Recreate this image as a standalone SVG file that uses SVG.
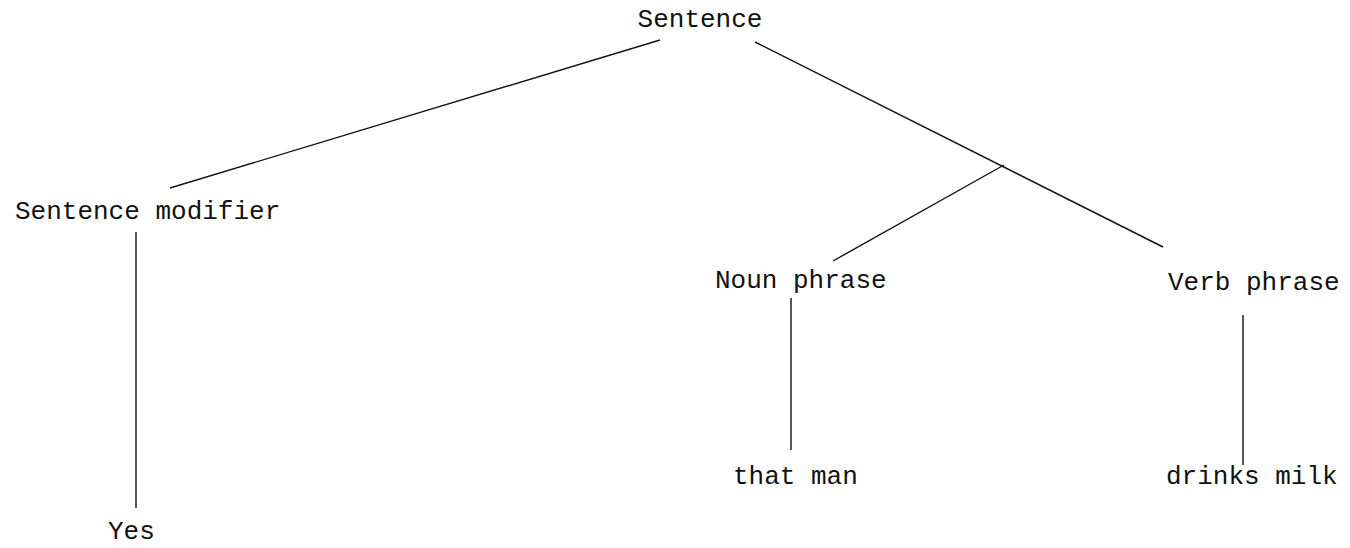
<svg xmlns="http://www.w3.org/2000/svg" width="1350" height="548" viewBox="0 0 1350 548">
<style>
.t{font-family:"Liberation Mono","DejaVu Sans Mono",monospace;font-size:26px;fill:#111;}
.e{stroke:#111;stroke-width:1.4;fill:none;}
</style>
<rect width="1350" height="548" fill="#fff"/>
<g id="connectors">
<line class="e" x1="660" y1="40" x2="170" y2="188"/>
<line class="e" x1="755" y1="42" x2="1163" y2="247"/>
<line class="e" x1="1004" y1="165" x2="833" y2="261"/>
<line class="e" x1="136" y1="232" x2="136" y2="508"/>
<line class="e" x1="791" y1="298" x2="791" y2="450"/>
<line class="e" x1="1243" y1="315" x2="1243" y2="465"/>
</g>
<g id="n-sentence"><text class="t" x="700" y="27" text-anchor="middle">Sentence</text></g>
<g id="n-modifier"><text class="t" x="15" y="219">Sentence modifier</text></g>
<g id="n-noun"><text class="t" x="715" y="288">Noun phrase</text></g>
<g id="n-verb"><text class="t" x="1168" y="290">Verb phrase</text></g>
<g id="n-thatman"><text class="t" x="733" y="484">that man</text></g>
<g id="n-drinks"><text class="t" x="1166" y="484">drinks milk</text></g>
<g id="n-yes"><text class="t" x="108" y="539">Yes</text></g>
</svg>
